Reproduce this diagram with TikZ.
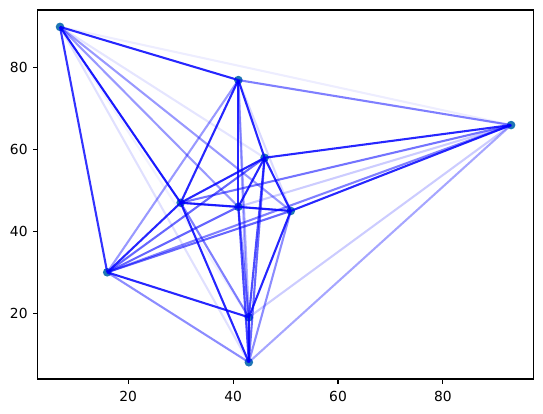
\documentclass[tikz,border=0pt]{standalone}
\usepackage{fontspec}
\setmainfont{DejaVu Sans}
\definecolor{tabblue}{HTML}{1F77B4}
\begin{document}
\begin{tikzpicture}[x=1bp,y=1bp,
  dot/.style={circle,fill=tabblue,inner sep=0pt,minimum size=8.6bp},
  edge/.style={draw=blue,line width=2.08bp},
  spine/.style={draw=black,line width=1.1bp},
  ticklbl/.style={inner sep=0pt,font=\fontsize{13.9}{16}\selectfont}]
\useasboundingbox (0,0) rectangle (543,413);
\begin{scope}[shift={(23.3,18)},x=5.245bp,y=4.09bp]
  \node[dot] (A) at (7,90) {};
  \node[dot] (B) at (41,77) {};
  \node[dot] (C) at (93,66) {};
  \node[dot] (D) at (46,58) {};
  \node[dot] (E) at (30,47) {};
  \node[dot] (F) at (41,46) {};
  \node[dot] (G) at (51,45) {};
  \node[dot] (H) at (16,30) {};
  \node[dot] (I) at (43,19) {};
  \node[dot] (J) at (43,8) {};
  \foreach \a/\b/\o in {
    A/B/0.85, A/C/0.07, A/D/0.1, A/E/0.9, A/F/0.4, A/G/0.4, A/H/0.8, A/I/0.05, A/J/0.12,
    B/C/0.5, B/D/0.85, B/E/0.85, B/F/0.85, B/G/0.15, B/H/0.4, B/I/0.3, B/J/0.3,
    C/D/0.85, C/E/0.55, C/F/0.2, C/G/0.85, C/H/0.5, C/I/0.2, C/J/0.35,
    D/E/0.85, D/F/0.85, D/G/0.85, D/H/0.6, D/I/0.7, D/J/0.6,
    E/F/0.85, E/G/0.3, E/H/0.85, E/I/0.5, E/J/0.85,
    F/G/0.85, F/H/0.6, F/I/0.5, F/J/0.7,
    G/H/0.6, G/I/0.85, G/J/0.45,
    H/I/0.85, H/J/0.45,
    I/J/0.9}
    \draw[edge,draw opacity=\o] (\a.center) -- (\b.center);
\end{scope}
\draw[spine] (37.5,34) rectangle (533.7,403);
\foreach \v/\p in {20/128.2,40/233.1,60/338.0,80/442.9}{
  \draw[spine] (\p,34) -- (\p,29.1);
  \node[ticklbl] (xl\v) at (\p,17) {\v};
}
\foreach \v/\p in {20/99.8,40/181.6,60/263.4,80/345.2}{
  \draw[spine] (37.5,\p) -- (32.6,\p);
  \node[ticklbl,anchor=east] (yl\v) at (27.8,\p) {\v};
}
\end{tikzpicture}
\end{document}
